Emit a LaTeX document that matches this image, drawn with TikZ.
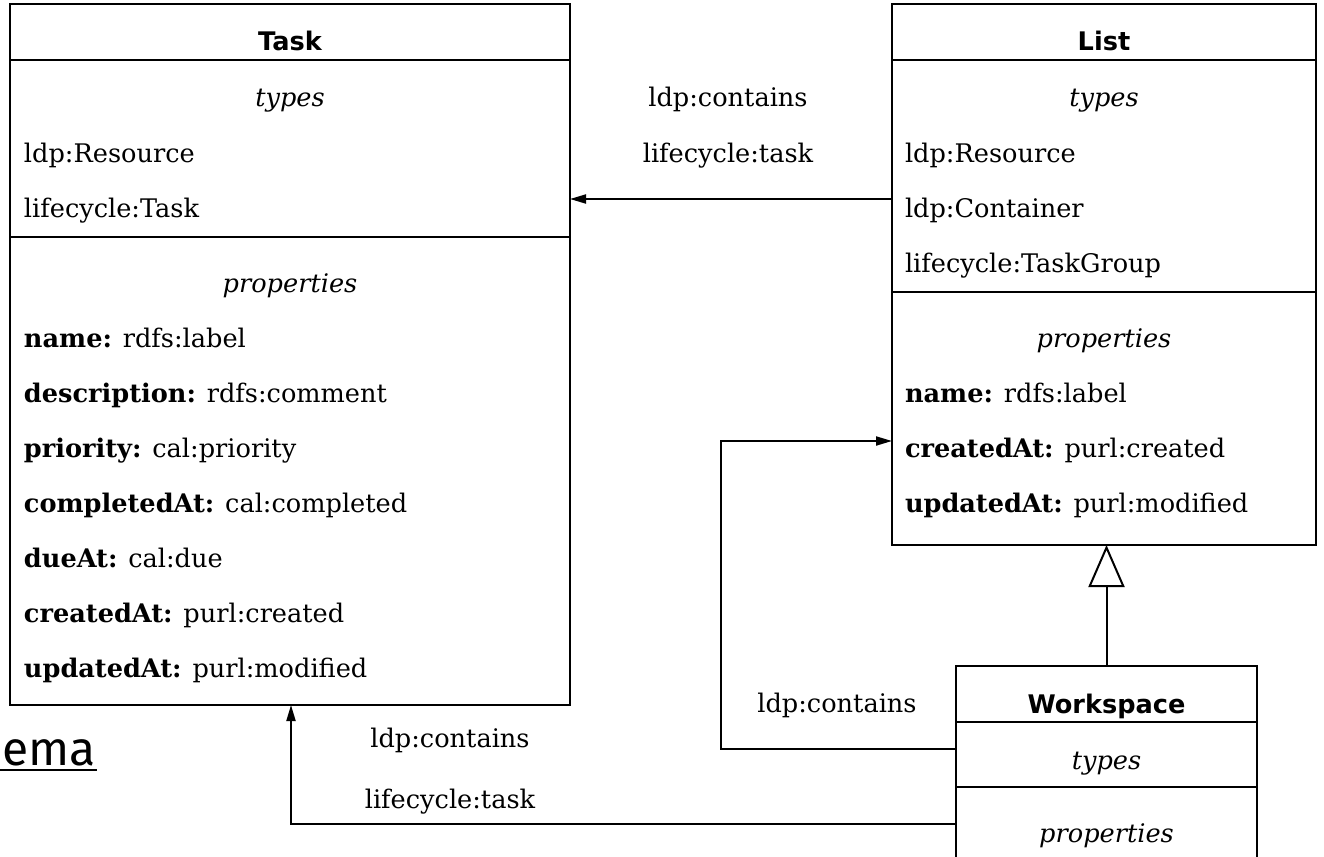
\documentclass[tikz,border=0pt]{standalone}
\usepackage{fontspec}
\setmainfont{DejaVu Serif}
\newfontfamily\titlefont{DejaVu Sans}
\newfontfamily\emafont{Fira Sans}
\usetikzlibrary{arrows.meta}
\tikzset{
  classbox/.style={draw, rectangle, anchor=north west, inner sep=0pt, outer sep=0pt},
  classtitle/.style={anchor=base, inner sep=0pt, font=\titlefont\bfseries\fontsize{12.8}{15}\selectfont},
  sectname/.style={anchor=base, inner sep=0pt, font=\itshape\fontsize{12.8}{15}\selectfont},
  entry/.style={anchor=base west, inner sep=0pt, font=\fontsize{12.8}{15}\selectfont},
  linklabel/.style={anchor=base, inner sep=0pt, font=\fontsize{12.8}{15}\selectfont},
  assoc/.style={-{Triangle[length=8pt,width=4.5pt]}},
  generalize/.style={-{Triangle[open,length=21pt,width=18pt,fill=white]}},
}
\begin{document}
\begin{tikzpicture}[x=0.5pt,y=-0.5pt,line width=1pt]
\useasboundingbox (0,0) rectangle (1324,857);
\clip (0,0) rectangle (1324,857);
\fill[white] (0,0) rectangle (1324,857);

% ---------- Task ----------
\node[classbox, minimum width=280pt, minimum height=350.5pt] (task) at (10,4) {};
\draw ([yshift=-28pt]task.north west) -- ([yshift=-28pt]task.north east);
\draw ([yshift=-116.5pt]task.north west) -- ([yshift=-116.5pt]task.north east);
\node[classtitle] (tasktitle) at (290,50) {Task};
\node[sectname] (tasktypes) at (290,106) {types};
\node[entry] (tt1) at (23,162) {ldp:Resource};
\node[entry] (tt2) at (23,217) {lifecycle:Task};
\node[sectname] (taskprops) at (290,292) {properties};
\node[entry] (tp1) at (23,347) {\textbf{name:} rdfs:label};
\node[entry] (tp2) at (23,402) {\textbf{description:} rdfs:comment};
\node[entry] (tp3) at (23,457) {\textbf{priority:} cal:priority};
\node[entry] (tp4) at (23,512) {\textbf{completedAt:} cal:completed};
\node[entry] (tp5) at (23,567) {\textbf{dueAt:} cal:due};
\node[entry] (tp6) at (23,622) {\textbf{createdAt:} purl:created};
\node[entry] (tp7) at (23,677) {\textbf{updatedAt:} purl:modified};

% ---------- List ----------
\node[classbox, minimum width=212pt, minimum height=270.5pt] (list) at (892,4) {};
\draw ([yshift=-28pt]list.north west) -- ([yshift=-28pt]list.north east);
\draw ([yshift=-144pt]list.north west) -- ([yshift=-144pt]list.north east);
\node[classtitle] (listtitle) at (1104,50) {List};
\node[sectname] (listtypes) at (1104,106) {types};
\node[entry] (lt1) at (904,162) {ldp:Resource};
\node[entry] (lt2) at (904,217) {ldp:Container};
\node[entry] (lt3) at (904,272) {lifecycle:TaskGroup};
\node[sectname] (listprops) at (1104,347) {properties};
\node[entry] (lp1) at (904,402) {\textbf{name:} rdfs:label};
\node[entry] (lp2) at (904,457) {\textbf{createdAt:} purl:created};
\node[entry] (lp3) at (904,512) {\textbf{updatedAt:} purl:modified};

% ---------- Workspace ----------
\node[classbox, minimum width=150.5pt, minimum height=130pt] (ws) at (956,666) {};
\draw ([yshift=-28pt]ws.north west) -- ([yshift=-28pt]ws.north east);
\draw ([yshift=-60.5pt]ws.north west) -- ([yshift=-60.5pt]ws.north east);
\node[classtitle] (wstitle) at (1106.5,713) {Workspace};
\node[sectname] (wstypes) at (1106.5,769) {types};
\node[sectname] (wsprops) at (1106.5,842) {properties};

% ---------- connectors ----------
\draw[assoc] ([yshift=-97.5pt]list.north west) -- ([yshift=-97.5pt]task.north east);
\node[linklabel] (l1a) at (728,106) {ldp:contains};
\node[linklabel] (l1b) at (728,162) {lifecycle:task};

\draw[assoc] ([yshift=-41.5pt]ws.north west) -- ++(-235,0) |- ([yshift=-218.5pt]list.north west);
\node[linklabel] (l2a) at (837,712) {ldp:contains};

\draw[assoc] ([yshift=-79pt]ws.north west) -| ([xshift=140.5pt]task.south west);
\node[linklabel] (l3a) at (450,747) {ldp:contains};
\node[linklabel] (l3b) at (450,808) {lifecycle:task};

\draw[generalize] (ws.north) -- (ws.north |- list.south);

% ---------- cut-off title ----------
\node[anchor=base east, inner sep=0pt, font=\emafont\fontsize{24}{28}\selectfont] (ema) at (97,765) {ema};
\draw[line width=1.2pt] (0,770) -- (ema.east |- 0,770);
\end{tikzpicture}
\end{document}
